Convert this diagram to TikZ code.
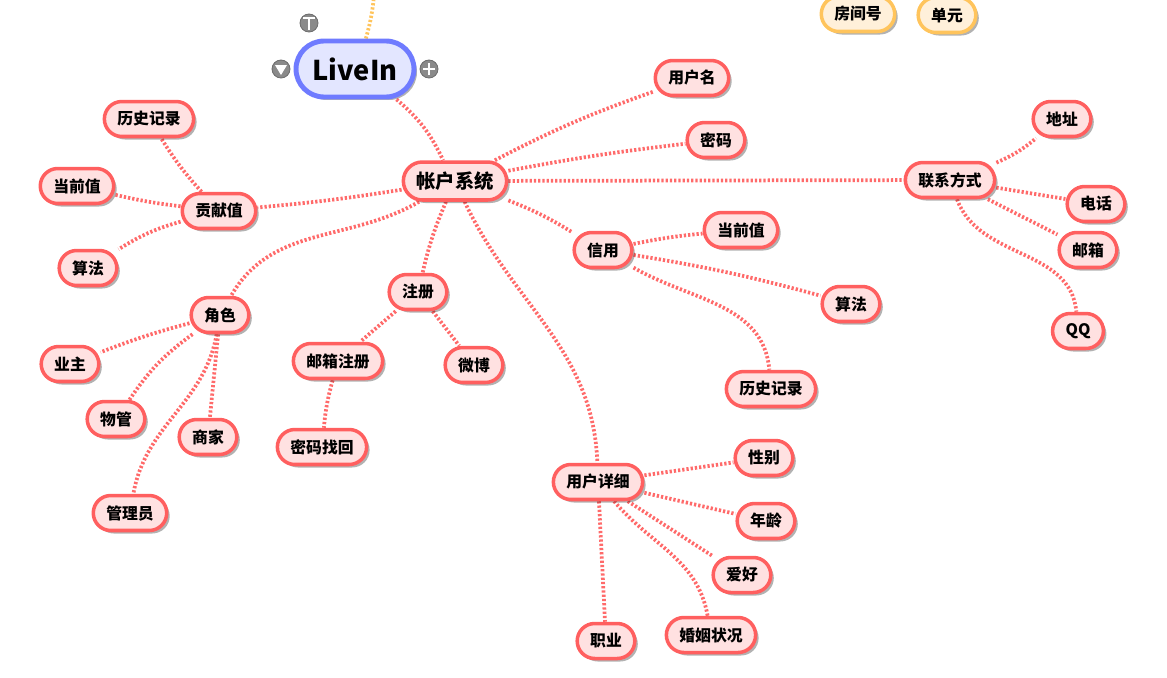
\documentclass[tikz,border=0pt]{standalone}
\usepackage{fontspec}
\setmainfont{Noto Sans CJK SC}
\usetikzlibrary{shadows,backgrounds}
\definecolor{leafline}{HTML}{FF5F5F}
\definecolor{leaffill}{HTML}{FFE1E1}
\definecolor{rootline}{HTML}{6F7BFF}
\definecolor{rootfill}{HTML}{E3E6FF}
\definecolor{sideline}{HTML}{FFC45C}
\definecolor{sidefill}{HTML}{FFF0DA}
\definecolor{linkcol}{HTML}{FF6A6A}
\definecolor{btn}{HTML}{8A8A8A}
\begin{document}
\begin{tikzpicture}[x=0.02cm,y=-0.02cm,
  every node/.style={font=\bfseries},
  leaf/.style={draw=leafline,fill=leaffill,line width=2pt,rounded corners=0.35cm,
    minimum height=0.7cm,inner xsep=0.26cm,font=\bfseries\fontsize{9}{10}\selectfont,
    drop shadow={shadow xshift=0.06cm,shadow yshift=-0.06cm,opacity=0.3,fill=black}},
  hub/.style={leaf,rounded corners=0.38cm,minimum height=0.76cm,
    font=\bfseries\fontsize{11}{12}\selectfont},
  side/.style={leaf,draw=sideline,fill=sidefill},
  link/.style={draw=linkcol,line width=0.075cm,dash pattern=on 0.045cm off 0.04cm},
  button/.style={circle,fill=btn,draw=btn!80!black,line width=0.5pt,minimum size=0.36cm,inner sep=0pt}]
\useasboundingbox (0,0) rectangle (1167,677);

% root and its buttons
\node[draw=rootline,fill=rootfill,line width=2.8pt,rounded corners=0.56cm,
  minimum width=2.36cm,minimum height=1.12cm,font=\bfseries\fontsize{15.5}{17}\selectfont,
  drop shadow={shadow xshift=0.06cm,shadow yshift=-0.06cm,opacity=0.3,fill=black}]
  (livein) at (355,69) {LiveIn};
\node[button] (btnT) at (309,23) {};
\node[button] (btnDown) at (281,69) {};
\node[button] (btnPlus) at (429,69) {};
\draw[white,line width=1.4pt] (303,18) -- (315,18) (309,18) -- (309,30);
\fill[white] (275,65) -- (287,65) -- (281,75) -- cycle;
\draw[white,line width=1.4pt] (423,69) -- (435,69) (429,63) -- (429,75);
\coordinate (up) at (374,-4);

% other branch, cut by the top edge
\node[side] (fangjian) at (858,14) {房间号};
\node[side] (danyuan) at (947,15) {单元};

% account system
\node[hub] (zhanghu) at (455,181) {帐户系统};
\node[leaf] (yonghuming) at (692,78) {用户名};
\node[leaf] (mima) at (716,140) {密码};

\node[leaf] (lianxi) at (950,180) {联系方式};
\node[leaf] (dizhi) at (1062,119) {地址};
\node[leaf] (dianhua) at (1096,204) {电话};
\node[leaf] (youxiang) at (1088,250) {邮箱};
\node[leaf] (qq) at (1078,331) {QQ};

\node[leaf] (xinyong) at (603,250) {信用};
\node[leaf] (xyDangqian) at (741,230) {当前值};
\node[leaf] (xySuanfa) at (851,304) {算法};
\node[leaf] (xyLishi) at (771,389) {历史记录};

\node[leaf] (xiangxi) at (598,482) {用户详细};
\node[leaf] (xingbie) at (764,458) {性别};
\node[leaf] (nianling) at (766,521) {年龄};
\node[leaf] (aihao) at (742,575) {爱好};
\node[leaf] (hunyin) at (711,635) {婚姻状况};
\node[leaf] (zhiye) at (606,641) {职业};

\node[leaf] (zhuce) at (418,292) {注册};
\node[leaf] (youxiangzhuce) at (338,361) {邮箱注册};
\node[leaf] (weibo) at (474,365) {微博};
\node[leaf] (mimazhaohui) at (322,447) {密码找回};

\node[leaf] (juese) at (220,315) {角色};
\node[leaf] (yezhu) at (70,364) {业主};
\node[leaf] (wuguan) at (116,419) {物管};
\node[leaf] (shangjia) at (208,437) {商家};
\node[leaf] (guanliyuan) at (130,513) {管理员};

\node[leaf] (gongxian) at (219,211) {贡献值};
\node[leaf] (gxLishi) at (149,119) {历史记录};
\node[leaf] (gxDangqian) at (77,186) {当前值};
\node[leaf] (gxSuanfa) at (88,268) {算法};

\begin{scope}[on background layer]
\draw[link,draw=sideline] (livein) to[bend right=5] (up);
\draw[link] (livein) to[bend left=12] (zhanghu);
\draw[link] (zhanghu) to[bend left=4] (yonghuming);
\draw[link] (zhanghu) to[bend left=2] (mima);
\draw[link] (zhanghu) -- (lianxi);
\draw[link] (zhanghu) to[bend left=5] (xinyong);
\draw[link] (zhanghu) to[out=-65,in=92] (xiangxi);
\draw[link] (zhanghu) to[bend right=5] (zhuce);
\draw[link] (zhanghu) to[out=-150,in=60] (juese);
\draw[link] (zhanghu) to[bend left=2] (gongxian);
\draw[link] (lianxi) to[bend right=8] (dizhi);
\draw[link] (lianxi) -- (dianhua);
\draw[link] (lianxi) -- (youxiang);
\draw[link] (lianxi) to[out=-70,in=95] (qq);
\draw[link] (xinyong) to[bend left=3] (xyDangqian);
\draw[link] (xinyong) to[bend left=3] (xySuanfa);
\draw[link] (xinyong) to[out=-30,in=95] (xyLishi);
\draw[link] (xiangxi) -- (xingbie);
\draw[link] (xiangxi) -- (nianling);
\draw[link] (xiangxi) -- (aihao);
\draw[link] (xiangxi) to[out=-50,in=100] (hunyin);
\draw[link] (xiangxi) -- (zhiye);
\draw[link] (zhuce) -- (youxiangzhuce);
\draw[link] (zhuce) -- (weibo);
\draw[link] (youxiangzhuce) to[bend right=5] (mimazhaohui);
\draw[link] (juese) to[bend right=3] (yezhu);
\draw[link] (juese) to[bend right=10] (wuguan);
\draw[link] (juese) -- (shangjia);
\draw[link] (juese) to[out=-100,in=80] (guanliyuan);
\draw[link] (gongxian) to[bend left=5] (gxLishi);
\draw[link] (gongxian) to[bend left=3] (gxDangqian);
\draw[link] (gongxian) to[bend right=8] (gxSuanfa);
\end{scope}
\end{tikzpicture}
\end{document}
